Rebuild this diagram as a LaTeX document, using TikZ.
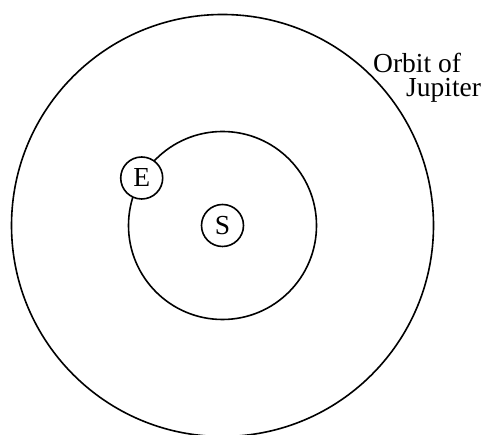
\documentclass[tikz,border=0pt]{standalone}
\usepackage{fontspec}
\setmainfont{Liberation Serif}
\begin{document}
\begin{tikzpicture}[x=1pt,y=1pt,
  orbit/.style={draw=black,line width=1.6pt},
  body/.style={circle,draw=black,line width=1.6pt,fill=white,minimum size=42pt,inner sep=0pt,font=\fontsize{27.5}{28}\selectfont},
  lbl/.style={anchor=base west,inner sep=0pt,font=\fontsize{27.5}{28}\selectfont}]
\useasboundingbox (0,0) rectangle (489,435);
\coordinate (sun) at (222.5,209.5);
\draw[orbit] (sun) circle[radius=211];
\draw[orbit] (sun) circle[radius=94];
\node[body] (E) at (141.7,257) {E};
\node[body] (S) at (sun) {S};
\node[lbl] (orbit1) at (373,362) {Orbit of};
\node[lbl] (orbit2) at (406,338) {Jupiter};
\end{tikzpicture}
\end{document}
